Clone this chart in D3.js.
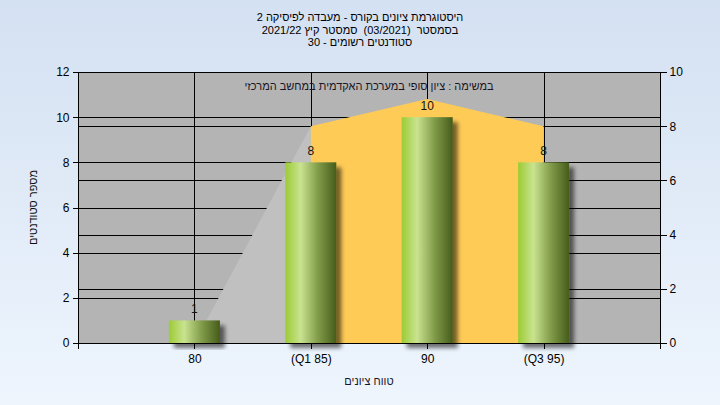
<!DOCTYPE html>
<html>
<head>
<meta charset="utf-8">
<script src="https://cdn.jsdelivr.net/npm/d3@7"></script>
<style>
  html, body { margin: 0; padding: 0; }
  body { width: 720px; height: 405px; overflow: hidden; }
  svg { display: block; font-family: "Liberation Sans", Arial, sans-serif; }
  .pre { white-space: pre; }
</style>
</head>
<body>
<svg id="chart" width="720" height="405"></svg>
<script>
// ---- data ----
const categories = ["80", "(Q1 85)", "90", "(Q3 95)"];
const counts = [1, 8, 10, 8];
const curveValues = [0, 8, 9, 8];
const leftTicks = [0, 2, 4, 6, 8, 10, 12];
const rightTicks = [0, 2, 4, 6, 8, 10];
const titleLines = [
  "היסטוגרמת ציונים בקורס - מעבדה לפיסיקה 2",
  "בסמסטר  (03/2021)  סמסטר קיץ 2021/22",
  "סטודנטים רשומים - 30"
];
const subtitle = "במשימה : ציון סופי במערכת האקדמית במחשב המרכזי";
const yAxisTitle = "מספר סטודנטים";
const xAxisTitle = "טווח ציונים";

// ---- layout ----
const W = 720, H = 405;
const plot = { left: 78, right: 660, top: 72, bottom: 343 };

const svg = d3.select("#chart");
const defs = svg.append("defs");

const bg = defs.append("linearGradient").attr("id", "bgGrad")
  .attr("x1", 0).attr("y1", 0).attr("x2", 0).attr("y2", 1);
bg.append("stop").attr("offset", "0%").attr("stop-color", "#d4e1f2");
bg.append("stop").attr("offset", "100%").attr("stop-color", "#eef5fd");

const barGrad = defs.append("linearGradient").attr("id", "barGrad")
  .attr("x1", 0).attr("y1", 0).attr("x2", 1).attr("y2", 0);
barGrad.append("stop").attr("offset", "0%").attr("stop-color", "#9ccb34");
barGrad.append("stop").attr("offset", "30%").attr("stop-color", "#c9e390");
barGrad.append("stop").attr("offset", "65%").attr("stop-color", "#7f9a48");
barGrad.append("stop").attr("offset", "100%").attr("stop-color", "#465c1b");

const shadow = defs.append("filter").attr("id", "shadow")
  .attr("x", "-30%").attr("y", "-30%").attr("width", "160%").attr("height", "160%");
shadow.append("feGaussianBlur").attr("in", "SourceAlpha").attr("stdDeviation", 2).attr("result", "b");
shadow.append("feOffset").attr("in", "b").attr("dx", 5).attr("dy", 5).attr("result", "o");
shadow.append("feComponentTransfer").attr("in", "o").attr("result", "s")
  .append("feFuncA").attr("type", "linear").attr("slope", 0.55);
const fm = shadow.append("feMerge");
fm.append("feMergeNode").attr("in", "s");
fm.append("feMergeNode").attr("in", "SourceGraphic");

svg.append("rect").attr("width", W).attr("height", H).attr("fill", "url(#bgGrad)");

// scales
const x = d3.scaleLinear().domain([0, categories.length + 1]).range([plot.left, plot.right]);
const xc = i => x(i + 1);
const yL = d3.scaleLinear().domain([0, 12]).range([plot.bottom, plot.top]);
const yR = d3.scaleLinear().domain([0, 10]).range([plot.bottom, plot.top]);

// plot background
svg.append("rect")
  .attr("x", plot.left).attr("y", plot.top)
  .attr("width", plot.right - plot.left).attr("height", plot.bottom - plot.top)
  .attr("fill", "#b4b4b4");

// gridlines
const grid = svg.append("g").attr("stroke", "#000").attr("stroke-width", 1).attr("shape-rendering", "crispEdges");
leftTicks.filter(v => v > 0).forEach(v => {
  grid.append("line").attr("x1", plot.left).attr("x2", plot.right)
    .attr("y1", Math.round(yL(v)) + 0.5).attr("y2", Math.round(yL(v)) + 0.5);
});
rightTicks.filter(v => v > 0 && v < 10).forEach(v => {
  grid.append("line").attr("x1", plot.left).attr("x2", plot.right)
    .attr("y1", Math.round(yR(v)) + 0.5).attr("y2", Math.round(yR(v)) + 0.5);
});
categories.forEach((c, i) => {
  grid.append("line").attr("x1", Math.round(xc(i)) + 0.5).attr("x2", Math.round(xc(i)) + 0.5)
    .attr("y1", plot.top).attr("y2", plot.bottom);
});

// curve area (right axis)
const pts = curveValues.map((v, i) => [xc(i), yR(v)]);
const area = d3.area().x(d => d[0]).y0(plot.bottom).y1(d => d[1]);
svg.append("path").attr("d", area(pts.slice(0, 2))).attr("fill", "#c0c0c0");
svg.append("path").attr("d", area(pts.slice(1, 4))).attr("fill", "#fecb57");

// plot frame
const frame = svg.append("g").attr("stroke", "#000").attr("shape-rendering", "crispEdges");
frame.append("line").attr("x1", plot.left).attr("x2", plot.right).attr("y1", plot.top + 0.5).attr("y2", plot.top + 0.5);
frame.append("line").attr("x1", plot.left + 0.5).attr("x2", plot.left + 0.5).attr("y1", plot.top).attr("y2", plot.bottom);
frame.append("line").attr("x1", plot.right + 0.5).attr("x2", plot.right + 0.5).attr("y1", plot.top).attr("y2", plot.bottom);

// bars
const barW = 51;
svg.append("g").selectAll("rect").data(counts).join("rect")
  .attr("x", (d, i) => xc(i) - barW / 2)
  .attr("y", d => yL(d))
  .attr("width", barW)
  .attr("height", d => plot.bottom - yL(d))
  .attr("fill", "url(#barGrad)")
  .attr("filter", "url(#shadow)");

// bar labels
svg.append("g").selectAll("text").data(counts).join("text")
  .attr("x", (d, i) => xc(i))
  .attr("y", d => yL(d) - 7)
  .attr("text-anchor", "middle")
  .attr("font-size", 12)
  .attr("fill", "#111")
  .text(d => d);

// axes
const axisL = d3.axisLeft(yL).tickValues(leftTicks).tickSize(6).tickPadding(3);
const axisR = d3.axisRight(yR).tickValues(rightTicks).tickSize(6).tickPadding(3);
const axisB = d3.axisBottom(x).tickValues(d3.range(0, categories.length + 2)).tickSize(5).tickPadding(6)
  .tickFormat(d => (d >= 1 && d <= categories.length) ? categories[d - 1] : "");

function styleAxis(g) {
  g.attr("font-family", "'Liberation Sans', Arial, sans-serif").attr("font-size", 12);
  g.selectAll("path, line").attr("stroke", "#000").attr("shape-rendering", "crispEdges");
  g.selectAll("text").attr("fill", "#000");
}
svg.append("g").attr("transform", `translate(${plot.left + 0.5},0)`).call(axisL).call(styleAxis)
  .select(".domain").attr("d", `M-6,${plot.top}H0V${plot.bottom}H-6`);
svg.append("g").attr("transform", `translate(${plot.right + 0.5},0)`).call(axisR).call(styleAxis)
  .select(".domain").attr("d", `M6,${plot.top}H0V${plot.bottom}H6`);
svg.append("g").attr("transform", `translate(0,${plot.bottom + 0.5})`).call(axisB).call(styleAxis)
  .select(".domain").attr("d", `M${plot.left},5V0H${plot.right}V5`);
svg.selectAll(".tick text").attr("font-size", 12);

// titles
svg.append("g").selectAll("text").data(titleLines).join("text")
  .attr("class", "pre")
  .attr("x", W / 2)
  .attr("y", (d, i) => 21 + i * 12.5)
  .attr("text-anchor", "middle")
  .attr("font-size", 11)
  .attr("fill", "#000")
  .text(d => d);

svg.append("text")
  .attr("x", (plot.left + plot.right) / 2)
  .attr("y", 90)
  .attr("text-anchor", "middle")
  .attr("font-size", 11)
  .attr("fill", "#1a1424")
  .text(subtitle);

svg.append("text")
  .attr("transform", `translate(37,${(plot.top + plot.bottom) / 2}) rotate(-90)`)
  .attr("text-anchor", "middle")
  .attr("font-size", 11)
  .attr("fill", "#111")
  .text(yAxisTitle);

svg.append("text")
  .attr("x", (plot.left + plot.right) / 2)
  .attr("y", 385)
  .attr("text-anchor", "middle")
  .attr("font-size", 11)
  .attr("fill", "#1a1424")
  .text(xAxisTitle);
</script>
</body>
</html>
